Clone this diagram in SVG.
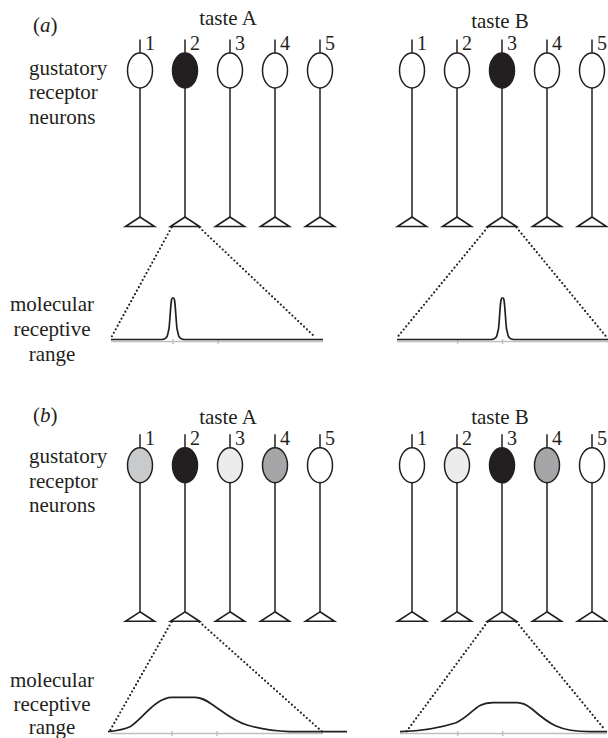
<svg xmlns="http://www.w3.org/2000/svg" width="608" height="738" viewBox="0 0 608 738" font-family="'Liberation Serif', 'Times New Roman', serif">
<style>
text{font-family:'Liberation Serif','Times New Roman',serif;fill:#231f20}
.lbl{font-family:'Liberation Serif','Times New Roman',serif;font-size:21px}
.num{font-family:'Liberation Serif','Times New Roman',serif;font-size:20px}
.ln{stroke:#231f20;stroke-width:1.5;fill:none}
.cell{stroke:#231f20;stroke-width:1.5}
.tri{stroke:#231f20;stroke-width:1.6;fill:none;stroke-linejoin:miter}
.dot{stroke:#231f20;stroke-width:2.2;stroke-linecap:round;stroke-dasharray:0 4;fill:none}
.axis{stroke:#bfbfbf;stroke-width:1.5;fill:none}
.curve{stroke:#231f20;stroke-width:1.7;fill:none;stroke-linejoin:round}
</style>
<defs>
<g id="neuron">
<line class="ln" x1="0" y1="-31" x2="0" y2="-17.5"/>
<line class="ln" x1="0" y1="17.5" x2="0" y2="146.5"/>
<path class="tri" d="M0,146.5 L-14.5,156 L14.5,156 Z"/>
</g>
</defs>

<!-- Panel (a) labels -->
<text class="lbl" x="33" y="32">(<tspan font-style="italic">a</tspan>)</text>
<text class="lbl" x="228" y="25" text-anchor="middle">taste A</text>
<text class="lbl" x="500" y="28" text-anchor="middle">taste B</text>
<text class="lbl" x="29" y="75">gustatory</text>
<text class="lbl" x="29" y="99">receptor</text>
<text class="lbl" x="29" y="124">neurons</text>
<text class="lbl" x="52" y="311" text-anchor="middle">molecular</text>
<text class="lbl" x="52" y="336" text-anchor="middle">receptive</text>
<text class="lbl" x="52" y="361" text-anchor="middle">range</text>

<!-- Panel (a) neurons, taste A -->
<g id="aA1" transform="translate(140,70.5)"><use href="#neuron"/><ellipse class="cell" cx="0" cy="0" rx="12.5" ry="17.5" fill="#fff"/><text class="num" x="5" y="-20.5">1</text></g>
<g id="aA2" transform="translate(185,70.5)"><use href="#neuron"/><ellipse class="cell" cx="0" cy="0" rx="12.5" ry="17.5" fill="#231f20"/><text class="num" x="5" y="-20.5">2</text></g>
<g id="aA3" transform="translate(230,70.5)"><use href="#neuron"/><ellipse class="cell" cx="0" cy="0" rx="12.5" ry="17.5" fill="#fff"/><text class="num" x="5" y="-20.5">3</text></g>
<g id="aA4" transform="translate(275,70.5)"><use href="#neuron"/><ellipse class="cell" cx="0" cy="0" rx="12.5" ry="17.5" fill="#fff"/><text class="num" x="5" y="-20.5">4</text></g>
<g id="aA5" transform="translate(320,70.5)"><use href="#neuron"/><ellipse class="cell" cx="0" cy="0" rx="12.5" ry="17.5" fill="#fff"/><text class="num" x="5" y="-20.5">5</text></g>

<!-- Panel (a) neurons, taste B -->
<g id="aB1" transform="translate(412,70.5)"><use href="#neuron"/><ellipse class="cell" cx="0" cy="0" rx="12.5" ry="17.5" fill="#fff"/><text class="num" x="5" y="-20.5">1</text></g>
<g id="aB2" transform="translate(457,70.5)"><use href="#neuron"/><ellipse class="cell" cx="0" cy="0" rx="12.5" ry="17.5" fill="#fff"/><text class="num" x="5" y="-20.5">2</text></g>
<g id="aB3" transform="translate(502,70.5)"><use href="#neuron"/><ellipse class="cell" cx="0" cy="0" rx="12.5" ry="17.5" fill="#231f20"/><text class="num" x="5" y="-20.5">3</text></g>
<g id="aB4" transform="translate(547,70.5)"><use href="#neuron"/><ellipse class="cell" cx="0" cy="0" rx="12.5" ry="17.5" fill="#fff"/><text class="num" x="5" y="-20.5">4</text></g>
<g id="aB5" transform="translate(592,70.5)"><use href="#neuron"/><ellipse class="cell" cx="0" cy="0" rx="12.5" ry="17.5" fill="#fff"/><text class="num" x="5" y="-20.5">5</text></g>

<!-- Panel (a) ranges -->
<g id="aRangeA">
<line class="axis" x1="111" y1="341.5" x2="323" y2="341.5"/>
<line class="axis" x1="173" y1="339" x2="173" y2="344"/>
<line class="axis" x1="218" y1="339" x2="218" y2="344"/>
<path class="curve" d="M111,339.5 L162,339.5 C165,339.3 166,338.5 167,336.7 C168,334 168.5,330 169,328.8 C170,320 170.5,306 171.5,300 C172,297 174,297 174.5,300 C175.5,306 176,320 177,328.8 C177.5,330 178,334 179,336.7 C180,338.5 181,339.3 184,339.5 L323,339.5"/>
</g>
<g id="aRangeB">
<line class="axis" x1="397" y1="341.5" x2="608" y2="341.5"/>
<line class="axis" x1="457.7" y1="339" x2="457.7" y2="344"/>
<line class="axis" x1="502.5" y1="339" x2="502.5" y2="344"/>
<path class="curve" d="M397,339.5 L491.5,339.5 C494.5,339.3 495.5,338.5 496.5,336.7 C497.5,334 498,330 498.5,328.8 C499.5,320 500,306 501,300 C501.5,297 503.5,297 504,300 C505,306 505.5,320 506.5,328.8 C507,330 507.5,334 508.5,336.7 C509.5,338.5 510.5,339.3 513.5,339.5 L608,339.5"/>
</g>

<!-- Panel (b) labels -->
<text class="lbl" x="33" y="422">(<tspan font-style="italic">b</tspan>)</text>
<text class="lbl" x="228" y="424" text-anchor="middle">taste A</text>
<text class="lbl" x="500" y="424" text-anchor="middle">taste B</text>
<text class="lbl" x="29" y="463">gustatory</text>
<text class="lbl" x="29" y="488">receptor</text>
<text class="lbl" x="29" y="512">neurons</text>
<text class="lbl" x="52" y="687" text-anchor="middle">molecular</text>
<text class="lbl" x="52" y="711" text-anchor="middle">receptive</text>
<text class="lbl" x="52" y="734" text-anchor="middle">range</text>

<!-- Panel (b) neurons, taste A -->
<g id="bA1" transform="translate(140,465.3)"><use href="#neuron"/><ellipse class="cell" cx="0" cy="0" rx="12.5" ry="17.5" fill="#c9cacc"/><text class="num" x="5" y="-20.5">1</text></g>
<g id="bA2" transform="translate(185,465.3)"><use href="#neuron"/><ellipse class="cell" cx="0" cy="0" rx="12.5" ry="17.5" fill="#231f20"/><text class="num" x="5" y="-20.5">2</text></g>
<g id="bA3" transform="translate(230,465.3)"><use href="#neuron"/><ellipse class="cell" cx="0" cy="0" rx="12.5" ry="17.5" fill="#ececec"/><text class="num" x="5" y="-20.5">3</text></g>
<g id="bA4" transform="translate(275,465.3)"><use href="#neuron"/><ellipse class="cell" cx="0" cy="0" rx="12.5" ry="17.5" fill="#a4a6a8"/><text class="num" x="5" y="-20.5">4</text></g>
<g id="bA5" transform="translate(320,465.3)"><use href="#neuron"/><ellipse class="cell" cx="0" cy="0" rx="12.5" ry="17.5" fill="#fff"/><text class="num" x="5" y="-20.5">5</text></g>

<!-- Panel (b) neurons, taste B -->
<g id="bB1" transform="translate(412,465.3)"><use href="#neuron"/><ellipse class="cell" cx="0" cy="0" rx="12.5" ry="17.5" fill="#fff"/><text class="num" x="5" y="-20.5">1</text></g>
<g id="bB2" transform="translate(457,465.3)"><use href="#neuron"/><ellipse class="cell" cx="0" cy="0" rx="12.5" ry="17.5" fill="#ececec"/><text class="num" x="5" y="-20.5">2</text></g>
<g id="bB3" transform="translate(502,465.3)"><use href="#neuron"/><ellipse class="cell" cx="0" cy="0" rx="12.5" ry="17.5" fill="#231f20"/><text class="num" x="5" y="-20.5">3</text></g>
<g id="bB4" transform="translate(547,465.3)"><use href="#neuron"/><ellipse class="cell" cx="0" cy="0" rx="12.5" ry="17.5" fill="#a4a6a8"/><text class="num" x="5" y="-20.5">4</text></g>
<g id="bB5" transform="translate(592,465.3)"><use href="#neuron"/><ellipse class="cell" cx="0" cy="0" rx="12.5" ry="17.5" fill="#fff"/><text class="num" x="5" y="-20.5">5</text></g>

<!-- Panel (b) ranges -->
<g id="bRangeA">
<line class="axis" x1="111" y1="733.5" x2="323" y2="733.5"/>
<line class="axis" x1="172" y1="731" x2="172" y2="736"/>
<line class="axis" x1="217" y1="731" x2="217" y2="736"/>
<path class="curve" d="M108,731.7 C118,730.5 124,729.5 130,726.7 C137,723 148,709 157,703 C162,699.5 166,697.3 172,697.3 L195,697.3 C202,697.3 207,701 213,705 C222,711 233,721 247,725 C260,729 272,731 290,731.6 L347,731.7"/>
</g>
<g id="bRangeB">
<line class="axis" x1="400" y1="733.5" x2="607" y2="733.5"/>
<line class="axis" x1="457.7" y1="731" x2="457.7" y2="736"/>
<line class="axis" x1="502.7" y1="731" x2="502.7" y2="736"/>
<path class="curve" d="M400,731.7 C420,731 440,728 456,722.7 C467,718 472,710 480,705.5 C485,703 488,702.7 493,702.7 L517,702.7 C523,702.7 527,705 532,709 C540,716 547,722 556,726 C566,730.5 575,731.6 590,731.7 L607,731.7"/>
</g>

<!-- Connectors (dotted projections) -->
<g id="connectors">
<line class="dot" x1="171.5" y1="227.5" x2="111.5" y2="337"/>
<line class="dot" x1="199.5" y1="227.5" x2="315" y2="337"/>
<line class="dot" x1="487.5" y1="227.5" x2="397.5" y2="337"/>
<line class="dot" x1="516.5" y1="227.5" x2="606.5" y2="337"/>
<line class="dot" x1="171.5" y1="622" x2="109.5" y2="731.5"/>
<line class="dot" x1="199.5" y1="622" x2="323" y2="732.5"/>
<line class="dot" x1="487.5" y1="622" x2="406.5" y2="731.5"/>
<line class="dot" x1="516.5" y1="622" x2="605" y2="730"/>
</g>
</svg>
